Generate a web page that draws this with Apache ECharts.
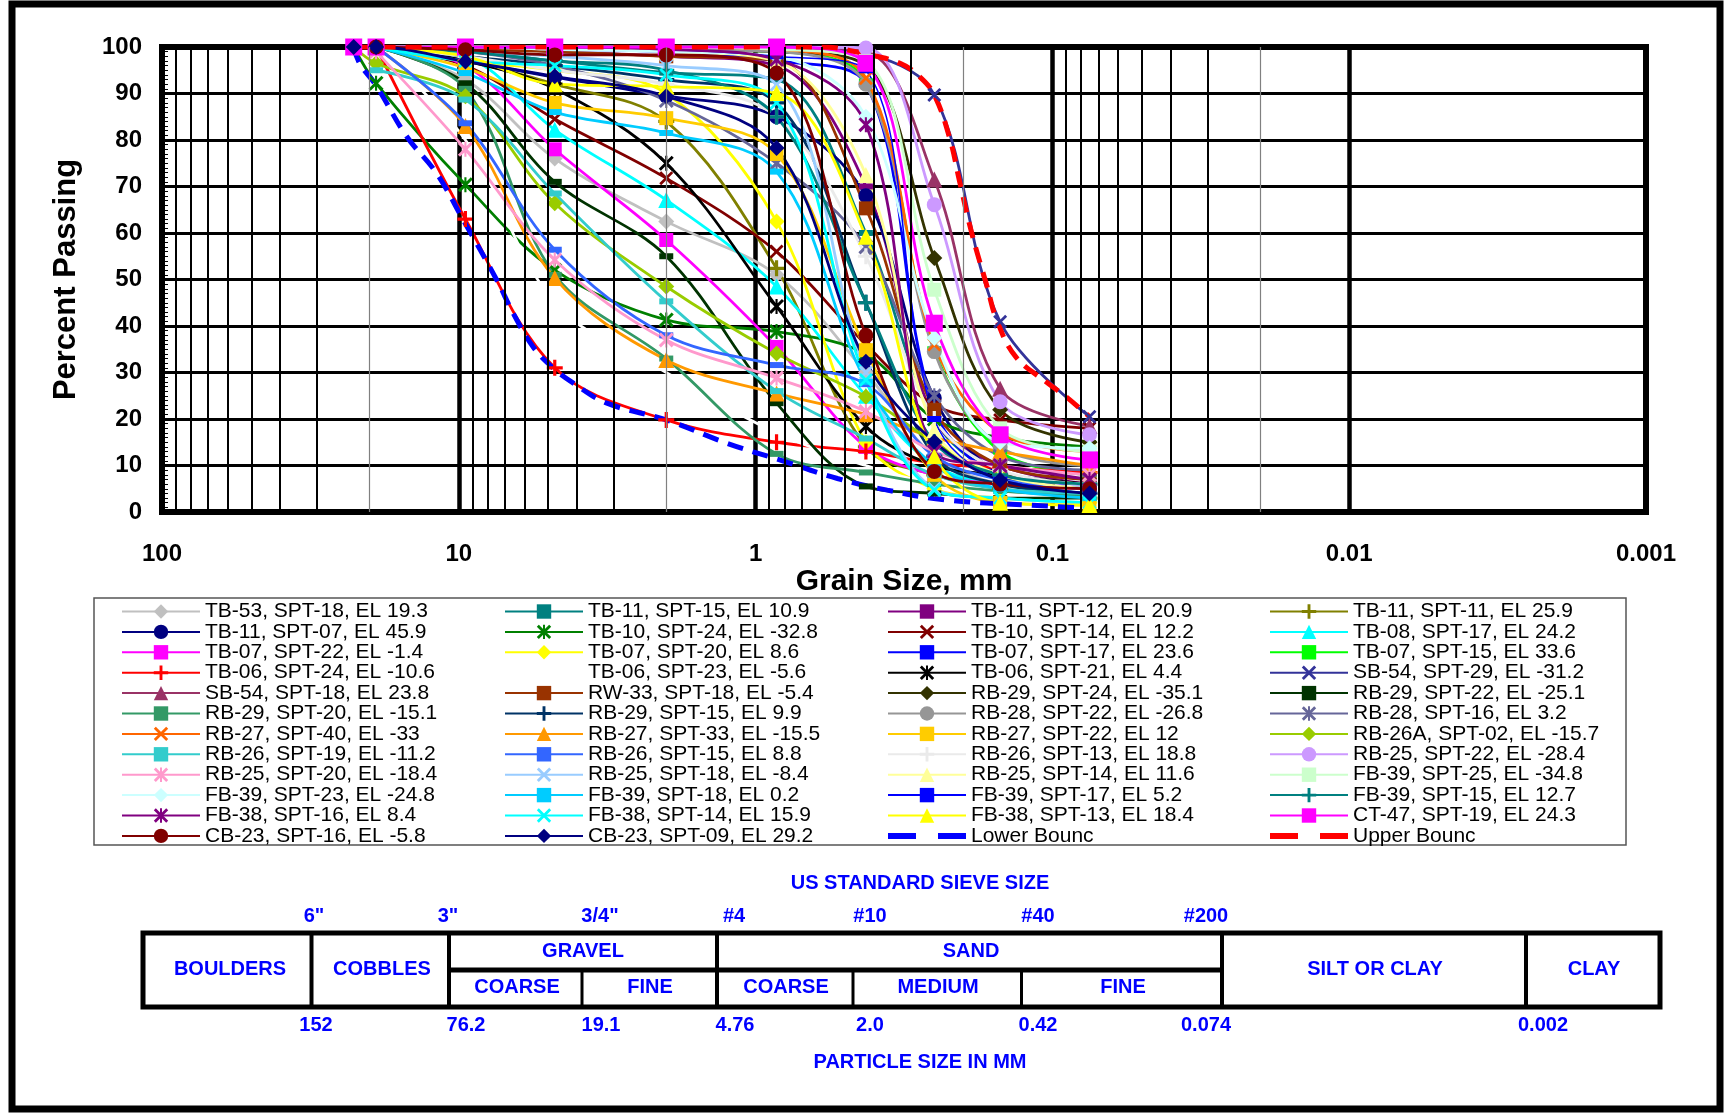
<!DOCTYPE html>
<html>
<head>
<meta charset="utf-8">
<title>Grain Size Distribution</title>
<script src="https://cdn.jsdelivr.net/npm/echarts@6.0.0/dist/echarts.min.js"></script>
<style>
  html, body { margin: 0; padding: 0; background: #fff; }
  #chart { width: 1726px; height: 1113px; }
</style>
</head>
<body>
<div id="chart"></div>
<script>
// sieve openings (mm) and percent passing for each sample, null = no reading
const sieveMm = [22.6, 19, 9.5, 4.75, 2.0, 0.85, 0.425, 0.25, 0.15, 0.075]

const TB53_18 = [null, 100, 93, 76, 62.5, 51, 30, 12, 6, 4]
const TB11_15 = [null, 100, 99, 97, 94.5, 93, 60, 20, 8, 5]
const TB11_12 = [null, 100, 100, 99, 98, 96, 70, 20, 10, 6]
const TB11_11 = [null, 100, 97, 92, 84, 52.4, 14, 8, 5, 3]
const TB11_07 = [100, 100, 97, 93.5, 89.5, 85, 68, 24.5, 8, 4]
const TB10_24 = [100, 92.2, 70.4, 52, 41.3, 38.8, 34, 20, 16, 14]
const TB10_14 = [null, 100, 96, 84.5, 71.8, 56, 36, 23, 19.8, 18]
const TB08_17 = [null, 100, 98, 82.2, 67.1, 48.5, 25, 10, 6, 4]
const TB07_22 = [null, 100, 96, 78, 58.5, 35.5, 14, 8, 6, 5]
const TB07_20 = [null, 100, 97, 95, 90, 62.5, 15, 5, 3, 2]
const TB07_17 = [null, 100, 100, 99.5, 99, 97, 92, 22, 8, 6]
const TB07_15 = [null, 100, 100, 100, 99.5, 99, 92.6, 35, 13, 8]
const TB06_24 = [null, 100, 63, 31, 19.8, 15, 13, 10.5, 9.5, 8.5]
const TB06_23 = [null, 100, 80, 45, 30, 17, 10, 6, 4, 3]
const TB06_21 = [null, 100, 97, 91, 75, 44.2, 18.4, 10, 8, 6]
const SB54_29 = [null, 100, 100, 100, 100, 100, 98.5, 89.7, 40.9, 20.5]
const SB54_18 = [null, 100, 100, 100, 100, 100, 99, 71.5, 26.5, 18.5]
const RW33_18 = [null, 100, 99.5, 99, 98, 97, 65.3, 22, 10, 7]
const RB29_24 = [null, 100, 100, 100, 99.5, 99, 96, 54.6, 22, 15]
const RB29_22 = [null, 100, 92.2, 71, 55, 23.4, 5.5, 4, 3, 3]
const RB29_20 = [null, 100, 91, 51, 33, 12.5, 8.5, 6, 4.5, 3.5]
const RB29_15 = [null, 100, 98, 96, 93, 88, 45, 12, 6, 4]
const RB28_22 = [null, 100, 100, 100, 99.5, 99, 92, 34.5, 14, 10]
const RB28_16 = [null, 100, 99, 96, 88.5, 75, 57, 25, 12, 9]
const RB27_40 = [null, 100, 100, 100, 100, 99.5, 93.3, 36, 17, 13]
const RB27_33 = [null, 100, 83, 50.3, 32.7, 25.5, 21, 16, 13, 10]
const RB27_22 = [null, 100, 95.5, 88, 84.7, 77, 34.8, 8, 2, 1.5]
const RB26A_02 = [100, 96.5, 89.4, 66.4, 48.5, 34.1, 24.8, 15, 8, 6]
const RB26_19 = [null, 95, 88.7, 68.5, 45.3, 26, 15.8, 8, 5, 4]
const RB26_15 = [null, 100, 83.6, 56.4, 38, 31.6, 27.5, 12, 7, 5]
const RB26_13 = [null, 100, 98, 95, 92, 85, 55, 20, 9, 6]
const RB25_22 = [null, 100, 100, 100, 100, 100, 99.8, 66.1, 23.7, 16.6]
const RB25_20 = [null, 99, 78, 54.2, 37, 28.8, 21.6, 13, 10, 8]
const RB25_18 = [null, 100, 99, 98, 96, 91.9, 30, 5, 3, 2]
const RB25_14 = [null, 100, 100, 100, 99, 97, 72.5, 17.6, 8, 5]
const FB39_25 = [null, 100, 100, 100, 100, 99.5, 97, 47.8, 18, 13]
const FB39_23 = [null, 100, 100, 99.5, 99, 98, 85, 37.4, 15, 13.7]
const FB39_18 = [null, 100, 94.4, 86, 81.5, 73.2, 28, 10, 5, 3]
const FB39_17 = [null, 100, 100, 100, 99.5, 98, 95, 20, 7, 5]
const FB39_15 = [null, 100, 99, 97, 95, 85, 45, 15, 8, 6]
const FB38_16 = [null, 100, 100, 100, 99.5, 97.3, 83.3, 13, 10, 7]
const FB38_14 = [null, 100, 97, 96, 94, 88, 28.4, 4.7, 3, 2]
const FB38_13 = [null, 100, 98, 92, 91.5, 90.1, 59.2, 12, 2, 1.5]
const CT47_19 = [100, 100, 100, 100, 100, 100, 96.5, 40.6, 16.6, 11.2]
const CB23_16 = [null, 100, 99.4, 98.3, 98.3, 94.4, 38, 8.7, 6, 5]
const CB23_09 = [100, 100, 96.9, 93.7, 89.4, 78.3, 32.3, 15.1, 6.9, 4]

// gradation envelope
const lowerMm = [22.6, 21.6, 18.9, 15, 11.9, 9.66, 7.45, 6.55, 5.63, 4.8, 4.11, 3.17, 2.0, 1.25, 0.83, 0.53, 0.36, 0.23, 0.12, 0.075]
const lowerPct = [100, 96.5, 91.5, 80.8, 72.9, 62.8, 49.9, 42.7, 35.6, 30.9, 27.7, 23.4, 19.8, 14.8, 11.2, 7.2, 4.7, 2.6, 1.5, 0.8]
const upperMm = [22.6, 0.6, 0.425, 0.326, 0.281, 0.25, 0.221, 0.206, 0.187, 0.166, 0.154, 0.133, 0.1035, 0.09, 0.075]
const upperPct = [100, 100, 98.5, 96.5, 93.7, 89.7, 80, 71.4, 60, 48.5, 41.3, 33.4, 27.7, 24.8, 20.5]

// soil classification strip
const sieveNames = ['6"', '3"', '3/4"', '#4', '#10', '#40', '#200']
const sieveNameX = [314, 448, 600, 734, 870, 1038, 1206]
const sizeNames = ['152', '76.2', '19.1', '4.76', '2.0', '0.42', '0.074', '0.002']
const sizeNameX = [316, 466, 601, 735, 870, 1038, 1206, 1543]

const SYM = {
  diamond: 'diamond',
  circle: 'circle',
  square: 'rect',
  triangle: 'triangle',
  plus: 'path://M4,0H6V4H10V6H6V10H4V6H0V4H4Z',
  cross: 'path://M0,1.4L1.4,0L10,8.6L8.6,10ZM8.6,0L10,1.4L1.4,10L0,8.6Z',
  star: 'path://M0,1.4L1.4,0L10,8.6L8.6,10ZM8.6,0L10,1.4L1.4,10L0,8.6ZM4.3,0H5.7V10H4.3Z',
  dash: 'path://M0,0H10V4H0Z',
  none: 'none',
}
const SIZE = {
  diamond: 16, circle: 15, square: 14, triangle: 16,
  plus: 16, cross: 14, star: 15, dash: [14, 6], none: 0,
}

// legend order (row by row, 4 columns)
const samples = [
  ['TB-53, SPT-18, EL 19.3', TB53_18, '#C0C0C0', 'diamond'],
  ['TB-11, SPT-15, EL 10.9', TB11_15, '#008080', 'dash'],
  ['TB-11, SPT-12, EL 20.9', TB11_12, '#800080', 'dash'],
  ['TB-11, SPT-11, EL 25.9', TB11_11, '#808000', 'plus'],
  ['TB-11, SPT-07, EL 45.9', TB11_07, '#000080', 'circle'],
  ['TB-10, SPT-24, EL -32.8', TB10_24, '#008000', 'star'],
  ['TB-10, SPT-14, EL 12.2', TB10_14, '#800000', 'cross'],
  ['TB-08, SPT-17, EL 24.2', TB08_17, '#00FFFF', 'triangle'],
  ['TB-07, SPT-22, EL -1.4', TB07_22, '#FF00FF', 'square'],
  ['TB-07, SPT-20, EL 8.6', TB07_20, '#FFFF00', 'diamond'],
  ['TB-07, SPT-17, EL 23.6', TB07_17, '#0000FF', 'dash'],
  ['TB-07, SPT-15, EL 33.6', TB07_15, '#00FF00', 'dash'],
  ['TB-06, SPT-24, EL -10.6', TB06_24, '#FF0000', 'plus'],
  ['TB-06, SPT-23, EL -5.6', TB06_23, '#FFFFFF', 'none'],
  ['TB-06, SPT-21, EL 4.4', TB06_21, '#000000', 'star'],
  ['SB-54, SPT-29, EL -31.2', SB54_29, '#333399', 'cross'],
  ['SB-54, SPT-18, EL 23.8', SB54_18, '#993366', 'triangle'],
  ['RW-33, SPT-18, EL -5.4', RW33_18, '#993300', 'square'],
  ['RB-29, SPT-24, EL -35.1', RB29_24, '#333300', 'diamond'],
  ['RB-29, SPT-22, EL -25.1', RB29_22, '#003300', 'dash'],
  ['RB-29, SPT-20, EL -15.1', RB29_20, '#339966', 'dash'],
  ['RB-29, SPT-15, EL 9.9', RB29_15, '#003366', 'plus'],
  ['RB-28, SPT-22, EL -26.8', RB28_22, '#969696', 'circle'],
  ['RB-28, SPT-16, EL 3.2', RB28_16, '#666699', 'star'],
  ['RB-27, SPT-40, EL -33', RB27_40, '#FF6600', 'cross'],
  ['RB-27, SPT-33, EL -15.5', RB27_33, '#FF9900', 'triangle'],
  ['RB-27, SPT-22, EL 12', RB27_22, '#FFCC00', 'square'],
  ['RB-26A, SPT-02, EL -15.7', RB26A_02, '#99CC00', 'diamond'],
  ['RB-26, SPT-19, EL -11.2', RB26_19, '#33CCCC', 'dash'],
  ['RB-26, SPT-15, EL 8.8', RB26_15, '#3366FF', 'dash'],
  ['RB-26, SPT-13, EL 18.8', RB26_13, '#EAEAEA', 'plus'],
  ['RB-25, SPT-22, EL -28.4', RB25_22, '#CC99FF', 'circle'],
  ['RB-25, SPT-20, EL -18.4', RB25_20, '#FF99CC', 'star'],
  ['RB-25, SPT-18, EL -8.4', RB25_18, '#99CCFF', 'cross'],
  ['RB-25, SPT-14, EL 11.6', RB25_14, '#FFFF99', 'triangle'],
  ['FB-39, SPT-25, EL -34.8', FB39_25, '#CCFFCC', 'square'],
  ['FB-39, SPT-23, EL -24.8', FB39_23, '#CCFFFF', 'diamond'],
  ['FB-39, SPT-18, EL 0.2', FB39_18, '#00CCFF', 'dash'],
  ['FB-39, SPT-17, EL 5.2', FB39_17, '#0000FF', 'dash'],
  ['FB-39, SPT-15, EL 12.7', FB39_15, '#008080', 'plus'],
  ['FB-38, SPT-16, EL 8.4', FB38_16, '#800080', 'star'],
  ['FB-38, SPT-14, EL 15.9', FB38_14, '#00FFFF', 'cross'],
  ['FB-38, SPT-13, EL 18.4', FB38_13, '#FFFF00', 'triangle'],
  ['CT-47, SPT-19, EL 24.3', CT47_19, '#FF00FF', 'square'],
  ['CB-23, SPT-16, EL -5.8', CB23_16, '#800000', 'circle'],
  ['CB-23, SPT-09, EL 29.2', CB23_09, '#000080', 'diamond'],
]

const FONT = '"Liberation Sans", Arial, sans-serif'
const BLUE = '#0000FF'

const pairs = (xs, ys) => xs.map((x, i) => [x, ys[i]]).filter(p => p[1] != null)

const sampleSeries = samples.map(([name, vals, color, sym]) => ({
  name,
  type: 'line',
  data: pairs(sieveMm, vals),
  smooth: 0.35,
  symbol: SYM[sym],
  symbolSize: name.startsWith('CT-47') ? 17 : SIZE[sym],
  showAllSymbol: true,
  lineStyle: { color, width: name.startsWith('FB-39, SPT-17') ? 1.5 : 2.8 },
  itemStyle: { color },
  animation: false,
}))

const boundSeries = [
  {
    name: 'Lower Bounc', type: 'line', data: pairs(lowerMm, lowerPct), smooth: 0.4,
    symbol: 'none', lineStyle: { color: '#0000FF', width: 5, type: [16, 10] },
    itemStyle: { color: '#0000FF' }, animation: false,
  },
  {
    name: 'Upper Bounc', type: 'line', data: pairs(upperMm, upperPct), smooth: 0.4,
    symbol: 'none', lineStyle: { color: '#FF0000', width: 5, type: [16, 10] },
    itemStyle: { color: '#FF0000' }, animation: false,
  },
]

// intermediate log grid lines (2..9 in each decade)
const minorLines = []
for (let e = -3; e < 2; e++) {
  for (let m = 2; m <= 9; m++) {
    minorLines.push({
      xAxis: +(m * Math.pow(10, e)).toPrecision(3),
      lineStyle: m === 2
        ? { color: '#808080', width: 1.2, type: 'solid' }
        : { color: '#000', width: 2, type: 'solid' },
    })
  }
}
const gridSeries = {
  name: 'grid', type: 'line', data: [], silent: true, z: 1,
  markLine: {
    silent: true, symbol: ['none', 'none'], label: { show: false },
    animation: false, data: minorLines,
  },
}

const boundIcon = 'path://M0,0H28V6H0ZM50,0H78V6H50Z'
const names = samples.map(s => s[0]).concat(['Lower Bounc', 'Upper Bounc'])
const legendItems = names.map(n => n.endsWith('Bounc') ? { name: n, icon: boundIcon } : { name: n })
const legendLeft = [121, 504, 887, 1269]

const txt = (text, x, y, size, color, extra) => ({
  type: 'text', x, y, silent: true,
  style: Object.assign({
    text, fill: color, fontFamily: FONT, fontWeight: 'bold', fontSize: size,
    align: 'center', verticalAlign: 'middle',
  }, extra || {}),
})
const hline = (x1, x2, y, w) => ({ type: 'line', silent: true, shape: { x1, y1: y, x2, y2: y }, style: { stroke: '#000', lineWidth: w } })
const vline = (x, y1, y2, w) => ({ type: 'line', silent: true, shape: { x1: x, y1, x2: x, y2 }, style: { stroke: '#000', lineWidth: w } })

const tTop = 933, tMid = 970, tBot = 1007
const graphics = [
  { type: 'rect', silent: true, shape: { x: 12, y: 4, width: 1708, height: 1105 }, style: { fill: 'none', stroke: '#000', lineWidth: 7 } },
  { type: 'rect', silent: true, shape: { x: 94, y: 598, width: 1532, height: 247 }, style: { fill: 'none', stroke: '#555', lineWidth: 1.5 } },
  txt('US STANDARD SIEVE SIZE', 920, 883, 20, BLUE),
  ...sieveNames.map((t, i) => txt(t, sieveNameX[i], 916, 20, BLUE)),
  { type: 'rect', silent: true, shape: { x: 143, y: tTop, width: 1517, height: tBot - tTop }, style: { fill: 'none', stroke: '#000', lineWidth: 5 } },
  vline(311.5, tTop, tBot, 4), vline(449, tTop, tBot, 4), vline(717, tTop, tBot, 4),
  vline(1222, tTop, tBot, 4), vline(1526, tTop, tBot, 4),
  vline(582, tMid, tBot, 3), vline(853, tMid, tBot, 3), vline(1021.5, tMid, tBot, 3),
  hline(449, 1222, tMid, 5),
  txt('BOULDERS', 230, 969, 20, BLUE), txt('COBBLES', 382, 969, 20, BLUE),
  txt('GRAVEL', 583, 951, 20, BLUE), txt('SAND', 971, 951, 20, BLUE),
  txt('COARSE', 517, 987, 20, BLUE), txt('FINE', 650, 987, 20, BLUE),
  txt('COARSE', 786, 987, 20, BLUE), txt('MEDIUM', 938, 987, 20, BLUE),
  txt('FINE', 1123, 987, 20, BLUE),
  txt('SILT OR CLAY', 1375, 969, 20, BLUE), txt('CLAY', 1594, 969, 20, BLUE),
  ...sizeNames.map((t, i) => txt(t, sizeNameX[i], 1025, 20, BLUE)),
  txt('PARTICLE SIZE IN MM', 920, 1062, 20, BLUE),
]

const chart = echarts.init(document.getElementById('chart'), null, { renderer: 'canvas' })
chart.setOption({
  backgroundColor: '#fff',
  animation: false,
  textStyle: { fontFamily: FONT },
  grid: {
    left: 162, top: 47, width: 1484, height: 465,
    show: true, borderColor: '#000', borderWidth: 6, backgroundColor: '#fff',
    outerBoundsMode: 'none', containLabel: false,
  },
  xAxis: {
    type: 'log', logBase: 10, min: 0.001, max: 100, inverse: true,
    name: 'Grain Size, mm', nameLocation: 'middle', nameGap: 50,
    nameTextStyle: { fontFamily: FONT, fontWeight: 'bold', fontSize: 30, color: '#000' },
    axisLine: { show: true, lineStyle: { color: '#000', width: 6 } },
    axisTick: { show: false },
    axisLabel: {
      margin: 30, fontFamily: FONT, fontWeight: 'bold', fontSize: 24, color: '#000',
      formatter: v => String(parseFloat(Number(v).toPrecision(6))),
    },
    splitLine: { show: true, lineStyle: { color: '#000', width: 4.5 } },
  },
  yAxis: {
    type: 'value', min: 0, max: 100, interval: 10,
    name: 'Percent Passing', nameLocation: 'middle', nameGap: 80, nameRotate: 90,
    nameTextStyle: { fontFamily: FONT, fontWeight: 'bold', fontSize: 31, color: '#000' },
    axisLine: { show: true, lineStyle: { color: '#000', width: 6 } },
    axisTick: { show: true, inside: true, length: 7, lineStyle: { color: '#000', width: 1 } },
    minorTick: { show: true, splitNumber: 10, length: 6, lineStyle: { color: '#000', width: 1 } },
    axisLabel: { margin: 20, fontFamily: FONT, fontWeight: 'bold', fontSize: 24, color: '#000' },
    splitLine: { show: true, lineStyle: { color: '#000', width: 3 } },
  },
  legend: legendLeft.map((left, k) => ({
    orient: 'vertical', left, top: 601, padding: 0,
    itemWidth: 78, itemHeight: 18, itemGap: -0.6,
    selectedMode: false,
    data: legendItems.filter((_, i) => i % 4 === k),
    textStyle: { fontFamily: FONT, fontSize: 21, color: '#000' },
  })),
  series: [gridSeries, ...sampleSeries, ...boundSeries],
  graphic: graphics,
})
</script>
</body>
</html>
